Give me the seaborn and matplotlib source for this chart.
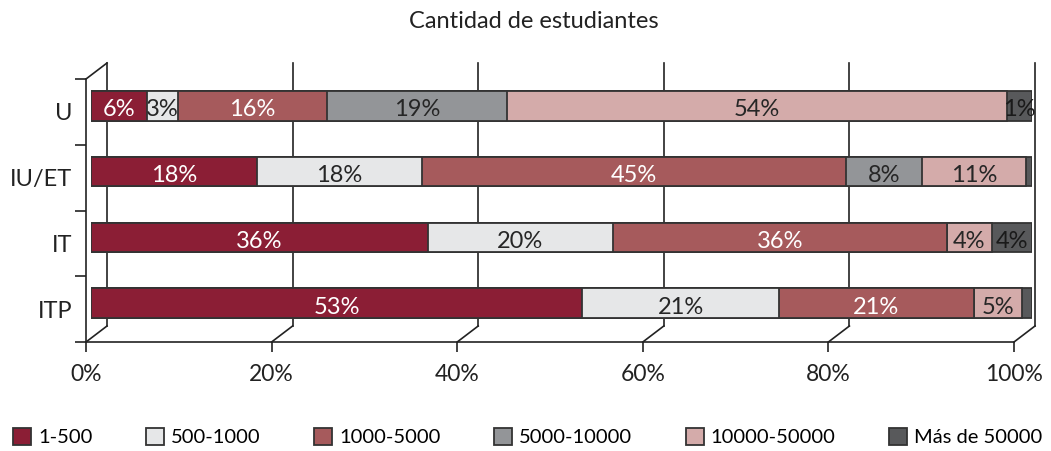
import numpy as np
import pandas as pd
import matplotlib
matplotlib.use("Agg")
import matplotlib.pyplot as plt
import seaborn as sns
from matplotlib.patches import Patch

# Data: share of institutions by student count (100% stacked)
tipos = ["U", "IU/ET", "IT", "ITP"]
rangos = ["1-500", "500-1000", "1000-5000", "5000-10000", "10000-50000", "Más de 50000"]
r_1_500 = [5.9, 17.6, 35.8, 52.2]
r_500_1000 = [3.3, 17.6, 19.7, 20.9]
r_1000_5000 = [15.8, 45.0, 35.6, 20.7]
r_5000_10000 = [19.1, 8.1, 0.0, 0.0]
r_10000_50000 = [53.1, 11.1, 4.7, 5.1]
r_mas_50000 = [2.6, 0.6, 4.3, 1.1]
# bar labels as printed on the chart
etiquetas = [
    ["6%", "3%", "16%", "19%", "54%", "1%"],
    ["18%", "18%", "45%", "8%", "11%", ""],
    ["36%", "20%", "36%", "", "4%", "4%"],
    ["53%", "21%", "21%", "", "5%", ""],
]
ticks_x = [0, 20, 40, 60, 80, 100]

colores = ["#8b1e35", "#e6e7e8", "#a65a5c", "#939598", "#d4abaa", "#58595b"]
texto_col = ["white", "#262626", "white", "#262626", "#262626", "#1a1a1a"]

vals = np.array([r_1_500, r_500_1000, r_1000_5000, r_5000_10000,
                 r_10000_50000, r_mas_50000]).T
vals = vals / vals.sum(axis=1, keepdims=True) * 100
cum = vals.cumsum(axis=1)

df = pd.DataFrame(cum, columns=rangos)
df["tipo"] = tipos

plt.rcParams["font.family"] = ["Lato", "DejaVu Sans"]
fig = plt.figure(figsize=(10.51, 4.51), dpi=100)

W, H = 1051, 451
# front plane of the 3D frame
ax = fig.add_axes([86 / W, (H - 342) / H, 928 / W, 263 / H])
# bars (slightly shifted, as in the 3D rendering)
bax = fig.add_axes([91 / W, (H - 336) / H, 941 / W, 263 / H])
bax.patch.set_alpha(0)

edge = "#333333"
for j in range(len(rangos) - 1, -1, -1):
    sns.barplot(data=df, x=rangos[j], y="tipo", orient="h", color=colores[j],
                width=0.45, edgecolor=edge, linewidth=1.3, saturation=1,
                ax=bax, zorder=3)
bax.set_xlim(0, 100)
bax.set_ylim(3.5, -0.5)
bax.axis("off")

for i in range(len(tipos)):
    for j in range(len(rangos)):
        if etiquetas[i][j]:
            xc = cum[i, j] - vals[i, j] / 2
            bax.text(xc, i + 0.06, etiquetas[i][j], ha="center", va="center",
                     fontsize=17, color=texto_col[j], zorder=5)

# frame
ax.set_xlim(0, 100)
ax.set_ylim(3.5, -0.5)
ax.patch.set_alpha(0)
for s in ["top", "right"]:
    ax.spines[s].set_visible(False)
for s in ["left", "bottom"]:
    ax.spines[s].set_color("#222222")
    ax.spines[s].set_linewidth(1.2)
ax.set_xticks(ticks_x)
ax.set_xticklabels([f"{t}%" for t in ticks_x], fontsize=16.5, color="#222222")
ax.set_yticks(range(len(tipos)))
ax.set_yticklabels(tipos, fontsize=17, color="#222222")
ax.set_yticks(np.arange(-0.5, 4, 1), minor=True)
ax.tick_params(axis="x", length=7, width=1.2, color="#222222", pad=9)
ax.tick_params(axis="y", which="major", length=0, pad=10)
ax.tick_params(axis="y", which="minor", length=8, width=1.2, color="#222222")
ax.set_xlabel("")
ax.set_ylabel("")

# back wall gridlines and depth diagonals
dx = 21 / 928 * 100
dy = 16 / 263
tr = ax.get_xaxis_transform()
for t in ticks_x:
    ax.plot([t + dx, t + dx], [dy, 1 + dy], transform=tr, color="#222222",
            lw=1.2, clip_on=False, zorder=1)
    ax.plot([t, t + dx], [0, dy], transform=tr, color="#222222",
            lw=1.2, clip_on=False, zorder=1)
ax.plot([0, dx], [1, 1 + dy], transform=tr, color="#222222", lw=1.2,
        clip_on=False, zorder=1)

fig.text(0.508, 1 - 22 / H, "Cantidad de estudiantes", ha="center",
         va="center", fontsize=17, color="#222222")

handles = [Patch(facecolor=c, edgecolor=edge, linewidth=1.3) for c in colores]
fig.legend(handles, rangos, loc="center", bbox_to_anchor=(0.502, (H - 437) / H),
           ncol=6, frameon=False, fontsize=14.5, handlelength=0.9,
           handleheight=0.9, handletextpad=0.35, columnspacing=2.65)

plt.savefig("out.png", dpi=100)
